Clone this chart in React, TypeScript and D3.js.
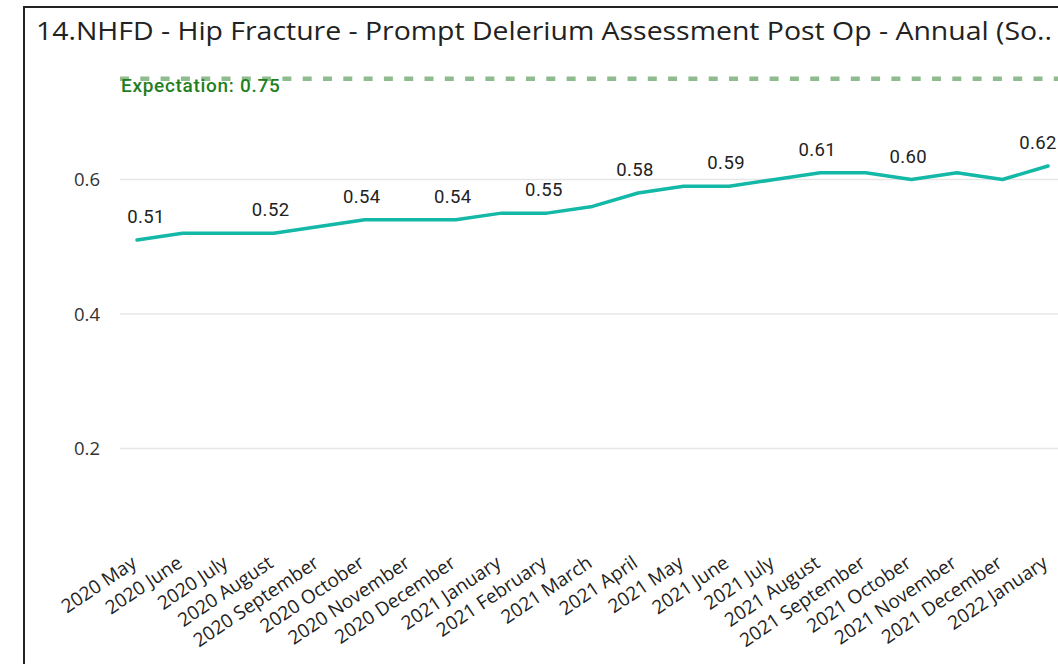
import React from "react";
import * as d3 from "d3";

const months = [
  "2020 May", "2020 June", "2020 July", "2020 August", "2020 September", "2020 October",
  "2020 November", "2020 December", "2021 January", "2021 February", "2021 March", "2021 April",
  "2021 May", "2021 June", "2021 July", "2021 August", "2021 September", "2021 October",
  "2021 November", "2021 December", "2022 January",
];
const values = [0.51, 0.52, 0.52, 0.52, 0.53, 0.54, 0.54, 0.54, 0.55, 0.55, 0.56, 0.58, 0.59, 0.59, 0.6, 0.61, 0.61, 0.6, 0.61, 0.6, 0.62];
const labelledMonths = ["2020 May", "2020 August", "2020 October", "2020 December", "2021 February", "2021 April", "2021 June", "2021 August", "2021 October", "2022 January"];
const yTicks = [0.2, 0.4, 0.6];
const expectation = 0.75;
const title = "14.NHFD - Hip Fracture - Prompt Delerium Assessment Post Op - Annual (So..";

const W = 1058;
const H = 664;

export default function App() {
  const x = d3.scalePoint<string>().domain(months).range([137, 1048]);
  const y = d3.scaleLinear().domain([0, 0.6]).range([583, 179.5]);
  const line = d3
    .line<number>()
    .x((_, i) => x(months[i]) as number)
    .y((d) => y(d));

  const labelX = (m: string) => {
    const px = (x(m) as number) - 3;
    return Math.min(Math.max(px, 146), 1038);
  };

  return (
    <svg width={W} height={H} style={{ position: "absolute", left: 0, top: 0, background: "#fff" }}>
      <rect x={24} y={7} width={1100} height={720} fill="#fff" stroke="#222" strokeWidth={2} />
      <text x={36} y={40} fontFamily="'Open Sans', sans-serif" fontSize={25} fill="#222" textLength={1016} lengthAdjust="spacingAndGlyphs">
        {title}
      </text>
      {yTicks.map((t) => (
        <g key={t}>
          <line x1={120} x2={W} y1={y(t)} y2={y(t)} stroke="#e6e6e6" strokeWidth={1.5} />
          <text x={100} y={y(t)} dy="0.36em" textAnchor="end" fontFamily="'Open Sans', sans-serif" fontSize={18.5} fill="#333">
            {t.toFixed(1)}
          </text>
        </g>
      ))}
      <line x1={120} x2={W} y1={y(expectation)} y2={y(expectation)} stroke="#8fbc8f" strokeWidth={4.5} strokeDasharray="9 11.3" />
      <text x={121} y={92} fontFamily="Roboto, sans-serif" fontWeight={500} fontSize={19} fill="#1f7f1f" letterSpacing={0.7}>
        Expectation: 0.75
      </text>
      <path d={line(values) as string} fill="none" stroke="#13b8a6" strokeWidth={3.5} strokeLinejoin="round" strokeLinecap="round" />
      {months.map((m, i) =>
        labelledMonths.includes(m) ? (
          <text key={m} x={labelX(m)} y={y(values[i]) - 17} textAnchor="middle" fontFamily="Roboto, sans-serif" fontWeight={400} fontSize={18.5} fill="#222" letterSpacing={0.4}>
            {values[i].toFixed(2)}
          </text>
        ) : null
      )}
      {months.map((m) => (
        <text key={m} transform={`translate(${(x(m) as number) + 1},${566}) rotate(-34)`} textAnchor="end" fontFamily="'Open Sans', sans-serif" fontSize={19} fill="#222">
          {m}
        </text>
      ))}
    </svg>
  );
}
